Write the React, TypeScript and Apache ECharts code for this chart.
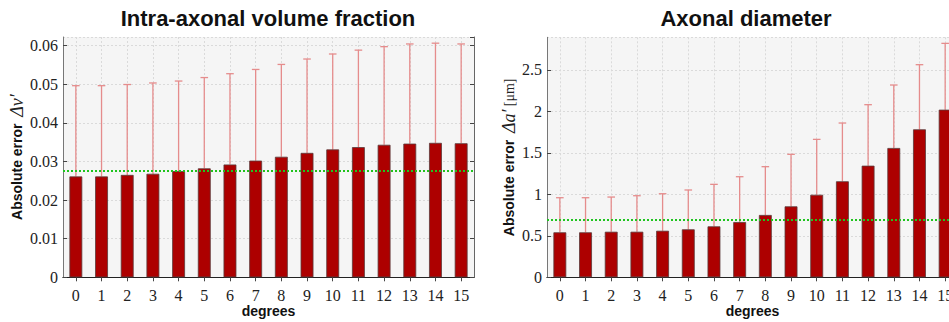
import React, { useEffect, useRef } from "react";
import * as echarts from "echarts";

const degrees = ["0","1","2","3","4","5","6","7","8","9","10","11","12","13","14","15"];

// Left panel: intra-axonal volume fraction error
const fracMean = [0.0261, 0.0261, 0.0265, 0.0268, 0.0275, 0.0282, 0.0292, 0.0302, 0.0312, 0.0322, 0.0331, 0.0337, 0.0343, 0.0346, 0.0348, 0.0347];
const fracUpper = [0.0496, 0.0496, 0.0499, 0.0503, 0.0508, 0.0517, 0.0527, 0.0538, 0.0551, 0.0565, 0.0578, 0.0588, 0.0597, 0.0604, 0.0606, 0.0604];
const fracRef = 0.0275;
const fracTicks = { min: 0, max: 0.0622, interval: 0.01 };

// Right panel: axonal diameter error
const diamMean = [0.542, 0.542, 0.549, 0.549, 0.561, 0.578, 0.614, 0.666, 0.751, 0.855, 0.995, 1.157, 1.345, 1.558, 1.783, 2.02];
const diamUpper = [0.959, 0.959, 0.967, 0.983, 1.007, 1.052, 1.12, 1.212, 1.333, 1.482, 1.662, 1.859, 2.08, 2.317, 2.562, 2.819];
const diamRef = 0.69;
const diamTicks = { min: 0, max: 2.892, interval: 0.5 };

const titles = ["Intra-axonal volume fraction", "Axonal diameter"];

const SERIF = "Liberation Serif";
const SANS = "Liberation Sans";
const BAR = "#ad0000";
const ERR = "#e58c8c";
const GREEN = "#1fc41f";

function errRender(params: any, api: any) {
  const i = api.value(0);
  const v = api.value(1);
  const t = api.value(2);
  const p0 = api.coord([i, v]);
  const p1 = api.coord([i, t]);
  const w = 3.8;
  const style = { stroke: ERR, lineWidth: 1.3 };
  return {
    type: "group",
    children: [
      { type: "line", shape: { x1: p0[0], y1: p0[1], x2: p1[0], y2: p1[1] }, style },
      { type: "line", shape: { x1: p1[0] - w, y1: p1[1], x2: p1[0] + w, y2: p1[1] }, style },
    ],
  };
}

function xAxes(gridIndex: number) {
  const tick = { show: true, inside: true, length: 4, alignWithLabel: true, interval: 0, lineStyle: { color: "#444" } };
  return [
    {
      type: "category",
      gridIndex,
      data: degrees,
      position: "bottom",
      boundaryGap: true,
      axisLine: { show: true, lineStyle: { color: "#666", width: 1 } },
      axisTick: tick,
      axisLabel: { interval: 0, margin: 10, fontFamily: SERIF, fontSize: 16, color: "#222" },
      splitLine: { show: true, interval: 0, alignWithLabel: true, lineStyle: { color: "#dadada", type: [2, 2], width: 1 } },
      name: "degrees",
      nameLocation: "middle",
      nameGap: 27,
      nameMoveOverlap: false,
      nameTextStyle: { fontFamily: SANS, fontWeight: "bold", fontSize: 14, color: "#111" },
    },
    {
      type: "category",
      gridIndex,
      data: degrees,
      position: "top",
      boundaryGap: true,
      axisLine: { show: true, lineStyle: { color: "#222", width: 1 } },
      axisTick: tick,
      axisLabel: { show: false },
      splitLine: { show: false },
    },
  ];
}

function yAxes(gridIndex: number, t: any, name: string, rich: any, nameGap: number) {
  const tick = { show: true, inside: true, length: 4, lineStyle: { color: "#444" } };
  return [
    {
      type: "value",
      gridIndex,
      position: "left",
      min: t.min,
      max: t.max,
      interval: t.interval,
      axisLine: { show: true, lineStyle: { color: "#777", width: 1 } },
      axisTick: tick,
      axisLabel: { margin: 5, fontFamily: SERIF, fontSize: 16, color: "#222", showMaxLabel: false },
      splitLine: { show: true, lineStyle: { color: "#dadada", type: [2, 2], width: 1 } },
      name,
      nameLocation: "middle",
      nameGap,
      nameRotate: 90,
      nameTextStyle: { rich },
    },
    {
      type: "value",
      gridIndex,
      position: "right",
      min: t.min,
      max: t.max,
      interval: t.interval,
      axisLine: { show: true, lineStyle: { color: "#666", width: 1 } },
      axisTick: tick,
      axisLabel: { show: false },
      splitLine: { show: false },
    },
  ];
}

function seriesFor(xi: number, yi: number, mean: number[], upper: number[], ref: number) {
  return [
    {
      type: "custom",
      xAxisIndex: xi,
      yAxisIndex: yi,
      renderItem: errRender,
      data: mean.map((m, i) => [i, m, upper[i]]),
      encode: { x: 0, y: [1, 2] },
      z: 1,
      silent: true,
    },
    {
      type: "bar",
      xAxisIndex: xi,
      yAxisIndex: yi,
      data: mean,
      barWidth: "50%",
      itemStyle: { color: BAR, borderColor: "#5b3a3a", borderWidth: 0.8 },
      z: 2,
      markLine: {
        silent: true,
        symbol: "none",
        precision: 6,
        label: { show: false },
        lineStyle: { color: GREEN, type: "dotted", width: 2 },
        data: [{ yAxis: ref }],
        z: 5,
      },
    },
  ];
}

export default function App() {
  const ref = useRef<HTMLDivElement>(null);
  useEffect(() => {
    if (!ref.current) return;
    const chart = echarts.init(ref.current, undefined, { renderer: "svg" });
    const richBase = {
      a: { fontFamily: SANS, fontWeight: "bold", fontSize: 14, color: "#111" },
      b: { fontFamily: SERIF, fontStyle: "italic", fontSize: 18, color: "#222" },
      c: { fontFamily: SERIF, fontSize: 14, color: "#222" },
    };
    chart.setOption({
      animation: false,
      backgroundColor: "#ffffff",
      grid: [
        { left: 63, top: 37, width: 411, height: 240.3, show: true, backgroundColor: "#f5f5f5", borderWidth: 0, outerBoundsMode: "none", containLabel: false },
        { left: 547, top: 37.3, width: 411, height: 240, show: true, backgroundColor: "#f5f5f5", borderWidth: 0, outerBoundsMode: "none", containLabel: false },
      ],
      graphic: [
        { type: "text", x: 268, y: 18, style: { text: titles[0], fontFamily: SANS, fontWeight: "bold", fontSize: 22, fill: "#111", textAlign: "center", textVerticalAlign: "middle" } },
        { type: "text", x: 746, y: 18, style: { text: titles[1], fontFamily: SANS, fontWeight: "bold", fontSize: 22, fill: "#111", textAlign: "center", textVerticalAlign: "middle" } },
      ],
      xAxis: [...xAxes(0), ...xAxes(1)],
      yAxis: [
        ...yAxes(0, fracTicks, "{a|Absolute error}  {b|Δν′}", richBase, 34),
        ...yAxes(1, diamTicks, "{a|Absolute error}  {b|Δa′} {c|[μm]}", richBase, 26),
      ],
      series: [
        ...seriesFor(0, 0, fracMean, fracUpper, fracRef),
        ...seriesFor(2, 2, diamMean, diamUpper, diamRef),
      ],
    });
    return () => chart.dispose();
  }, []);
  return <div ref={ref} style={{ position: "fixed", left: 0, top: 0, width: 960, height: 322 }} />;
}
